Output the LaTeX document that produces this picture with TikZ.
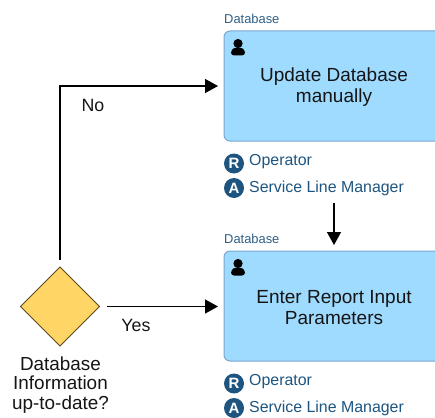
\documentclass[tikz,border=0pt]{standalone}
\usepackage{fontspec}
\setmainfont{Liberation Sans}
\usetikzlibrary{shapes.geometric,arrows.meta}
\definecolor{taskfill}{HTML}{9FDBFF}
\definecolor{taskline}{HTML}{7BA7D0}
\definecolor{gatefill}{HTML}{FFD566}
\definecolor{gateline}{HTML}{5C4A1E}
\definecolor{roleblue}{HTML}{1D5580}
\definecolor{labelblue}{HTML}{2F5F85}
\definecolor{inktext}{HTML}{151515}
\tikzset{
  x=1pt,y=-1pt,
  taskbox/.style={draw=taskline,line width=1pt,fill=taskfill,rounded corners=6pt,minimum width=220pt,minimum height=110pt,inner sep=0pt,outer sep=0pt},
  tasktext/.style={font=\fontsize{19}{21}\selectfont,text=inktext,align=center,inner sep=0pt},
  gate/.style={diamond,draw=gateline,line width=0.8pt,fill=gatefill,minimum width=79pt,minimum height=79pt,inner sep=0pt,outer sep=0pt,aspect=1},
  flow/.style={draw=black,line width=1.4pt,-{Triangle[length=13pt,width=14pt]}},
  edgetext/.style={font=\fontsize{17.8}{20}\selectfont,text=inktext,inner sep=0pt},
  gatetext/.style={font=\fontsize{18.9}{19.5}\selectfont,text=inktext,align=center,inner sep=0pt},
  laneltext/.style={font=\fontsize{12.9}{14}\selectfont,text=labelblue,anchor=west,inner sep=0pt},
  roletext/.style={font=\fontsize{15.9}{18}\selectfont,text=roleblue,anchor=west,inner sep=0pt},
  rolebadge/.style={circle,fill=roleblue,text=white,font=\bfseries\fontsize{15}{16}\selectfont,minimum size=20pt,inner sep=0pt},
  person/.pic={
    \fill[black] (0,-3.5) circle (4.6);
    \fill[black,rounded corners=3pt] (-7,8.5) -- (-7,3) -- (-3,0.5) -- (3,0.5) -- (7,3) -- (7,8.5) -- cycle;
  }
}
\begin{document}
\begin{tikzpicture}
\useasboundingbox (0,0) rectangle (435,417);
\clip (0,0) rectangle (435,417);
\node[taskbox] (t1) at (334,86) {};
\node[taskbox] (t2) at (334,306) {};
\node[tasktext] (t1l) at (334,87.5) {Update Database\\manually};
\node[tasktext] (t2l) at (334,307.5) {Enter Report Input\\Parameters};
\pic at (238,47) {person};
\pic at (238,267) {person};
\node[laneltext] (l1) at (224,18.5) {Database};
\node[laneltext] (l2) at (224,239) {Database};
\node[gate] (g) at (60,306.5) {};
\node[gatetext] (gl) at (60.5,385) {Database\\Information\\up-to-date?};
\node[rolebadge] (r1) at (234,163.5) {R};
\node[rolebadge] (a1) at (234,188) {A};
\node[rolebadge] (r2) at (234,383.5) {R};
\node[rolebadge] (a2) at (234,408) {A};
\node[roletext] (r1t) at (249,162) {Operator};
\node[roletext] (a1t) at (249,188) {Service Line Manager};
\node[roletext] (r2t) at (249,382) {Operator};
\node[roletext] (a2t) at (249,408) {Service Line Manager};
\node[edgetext] (no) at (93,105.5) {No};
\node[edgetext] (yes) at (136,325.5) {Yes};
\coordinate (vs) at (334,203);
\draw[flow,shorten <=7pt,shorten >=6pt] (g.north) |- (t1.west);
\draw[flow,shorten <=7pt,shorten >=6pt] (g.east) -- (t2.west |- g.east);
\draw[flow,shorten >=6pt] (vs) -- (t2.north);
\end{tikzpicture}
\end{document}
